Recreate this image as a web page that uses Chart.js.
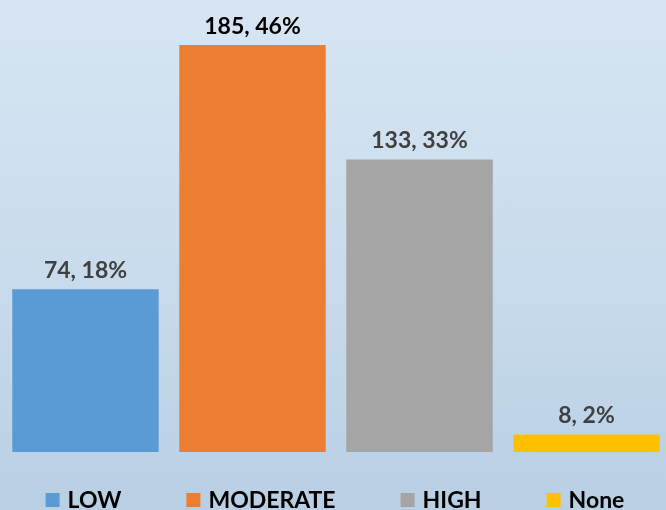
<!DOCTYPE html>
<html>
<head>
<meta charset="utf-8">
<script src="https://cdn.jsdelivr.net/npm/chart.js@4"></script>
<style>
  html, body { margin: 0; padding: 0; }
  body {
    width: 666px; height: 510px; overflow: hidden;
    background: linear-gradient(to bottom, #d7e5f3 0%, #c8dbec 55%, #b8cfe4 100%);
  }
  /* slightly wider than the window so the last bar reaches the edge like the original */
  #wrap { position: relative; width: 670px; height: 510px; }
</style>
</head>
<body>
<div id="wrap"><canvas id="bar-chart"></canvas></div>
<script>
// chart values
const categories = ["LOW", "MODERATE", "HIGH", "None"];
const counts = [74, 185, 133, 8];
const percents = [18, 46, 33, 2];
const colors = ["#5b9bd5", "#ed7d31", "#a5a5a5", "#ffc000"];
const labelColors = ["#404040", "#000000", "#404040", "#404040"];

const FONT = "Lato, 'Open Sans', sans-serif";

// one dataset per category so every bar gets its own legend entry
const datasets = categories.map((name, i) => ({
  label: name,
  data: categories.map((c, j) => (j === i ? counts[i] : null)),
  backgroundColor: colors[i],
  borderWidth: 0,
  barPercentage: 0.877,
  categoryPercentage: 1.0,
}));

// "value, pct%" above each bar
const valueLabels = {
  id: "valueLabels",
  afterDatasetsDraw(chart) {
    const ctx = chart.ctx;
    ctx.save();
    ctx.font = "bold 23px " + FONT;
    ctx.textAlign = "center";
    ctx.textBaseline = "alphabetic";
    chart.data.datasets.forEach((ds, i) => {
      const bar = chart.getDatasetMeta(i).data[i];
      if (!bar) return;
      ctx.fillStyle = labelColors[i];
      ctx.fillText(counts[i] + ", " + percents[i] + "%", bar.x, bar.y - 11);
    });
    ctx.restore();
  }
};

// bottom legend with wide gaps between entries (built-in legend ties gap to vertical padding)
const wideLegend = {
  id: "wideLegend",
  afterDraw(chart) {
    const ctx = chart.ctx;
    const box = 14, textGap = 8, itemGap = 65;
    ctx.save();
    ctx.font = "bold 23px " + FONT;
    ctx.textBaseline = "middle";
    const items = chart.data.datasets.map(ds => ({
      text: ds.label, color: ds.backgroundColor,
      w: box + textGap + ctx.measureText(ds.label).width
    }));
    const total = items.reduce((s, it) => s + it.w, 0) + itemGap * (items.length - 1);
    let x = 335 - total / 2;
    const y = 500;
    items.forEach(it => {
      ctx.fillStyle = it.color;
      ctx.fillRect(x, y - box / 2, box, box);
      ctx.fillStyle = "#000000";
      ctx.fillText(it.text, x + box + textGap, y + 1);
      x += it.w + itemGap;
    });
    ctx.restore();
  }
};

const ctx = document.getElementById("bar-chart").getContext("2d");
new Chart(ctx, {
  type: "bar",
  data: { labels: categories, datasets: datasets },
  plugins: [valueLabels, wideLegend],
  options: {
    responsive: true,
    maintainAspectRatio: false,
    animation: false,
    layout: { padding: { left: 2, right: 0, top: 0, bottom: 58 } },
    datasets: { bar: { grouped: false } },
    plugins: {
      legend: { display: false },
      tooltip: { enabled: false },
    },
    scales: {
      x: { display: false },
      y: { display: false, min: 0, max: 205.5 },
    },
  },
});
</script>
</body>
</html>
